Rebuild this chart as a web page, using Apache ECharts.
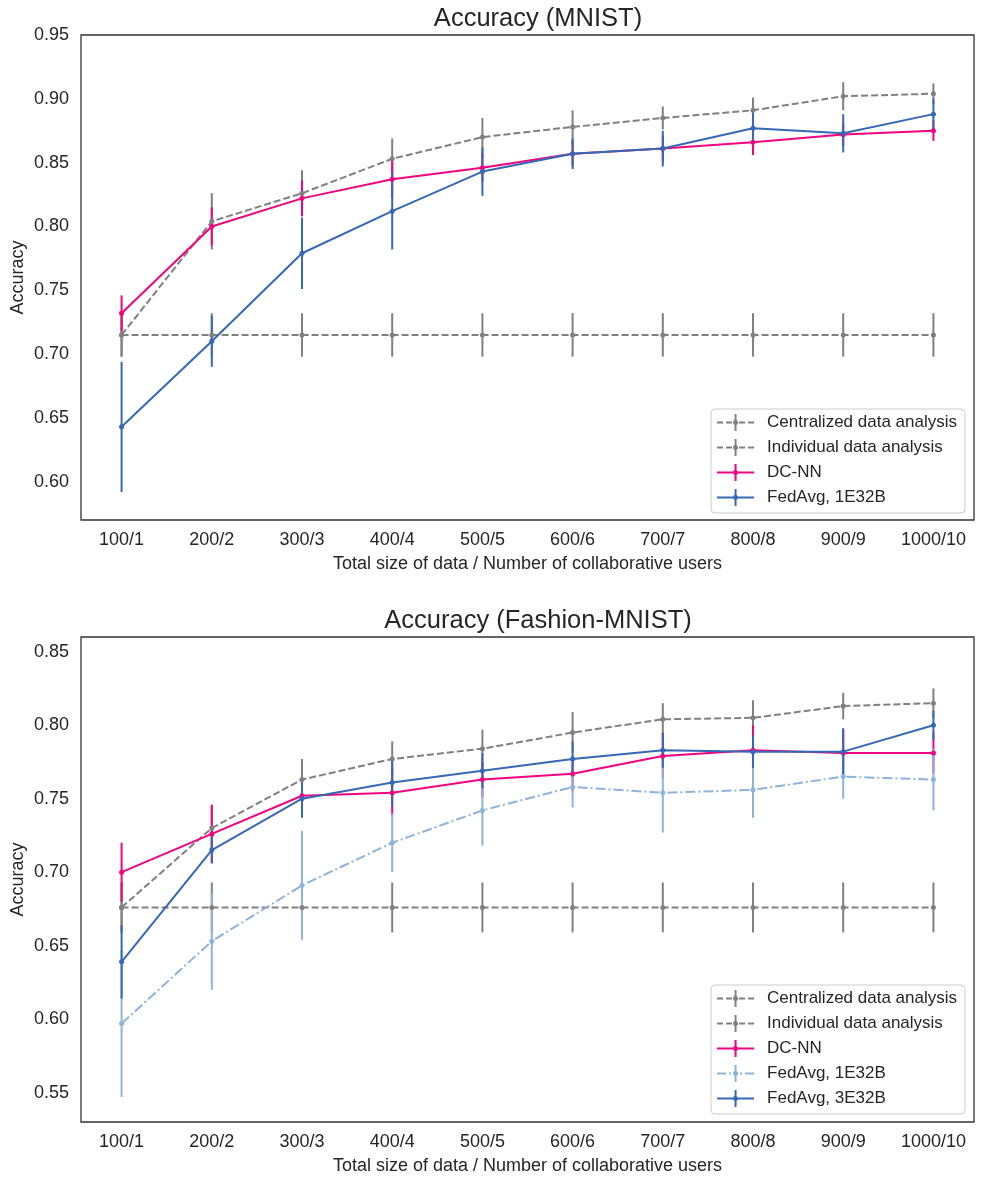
<!DOCTYPE html>
<html>
<head>
<meta charset="utf-8">
<script src="https://cdn.jsdelivr.net/npm/echarts@6/dist/echarts.min.js"></script>
<style>
html,body{margin:0;padding:0;background:#fff;}
#chart{width:984px;height:1184px;}
</style>
</head>
<body>
<div id="chart"></div>
<script>
// ---------- data ----------
var categories = ['100/1','200/2','300/3','400/4','500/5','600/6','700/7','800/8','900/9','1000/10'];
var yTicksTop = [0.60,0.65,0.70,0.75,0.80,0.85,0.90,0.95];
var yTicksBottom = [0.55,0.60,0.65,0.70,0.75,0.80,0.85];

// MNIST
var mnistCentral    = [0.715,0.804,0.826,0.853,0.870,0.878,0.885,0.891,0.902,0.904];
var mnistCentralErr = [0.017,0.022,0.018,0.016,0.015,0.013,0.009,0.010,0.011,0.008];
var mnistIndiv      = [0.715,0.715,0.715,0.715,0.715,0.715,0.715,0.715,0.715,0.715];
var mnistIndivErr   = [0.017,0.017,0.017,0.017,0.017,0.017,0.017,0.017,0.017,0.017];
var mnistDC         = [0.732,0.800,0.822,0.837,0.846,0.857,0.861,0.866,0.872,0.875];
var mnistDCErr      = [0.014,0.015,0.014,0.015,0.011,0.010,0.010,0.010,0.009,0.008];
var mnistFed1       = [0.643,0.710,0.779,0.812,0.843,0.857,0.861,0.877,0.873,0.888];
var mnistFed1Err    = [0.051,0.020,0.028,0.030,0.019,0.012,0.014,0.012,0.015,0.012];

// Fashion-MNIST
var fashCentral    = [0.676,0.730,0.763,0.777,0.784,0.795,0.804,0.805,0.813,0.815];
var fashCentralErr = [0.017,0.015,0.014,0.012,0.013,0.014,0.011,0.012,0.009,0.010];
var fashIndiv      = [0.676,0.676,0.676,0.676,0.676,0.676,0.676,0.676,0.676,0.676];
var fashIndivErr   = [0.017,0.017,0.017,0.017,0.017,0.017,0.017,0.017,0.017,0.017];
var fashDC         = [0.700,0.726,0.752,0.754,0.763,0.767,0.779,0.783,0.781,0.781];
var fashDCErr      = [0.020,0.020,0.010,0.016,0.012,0.012,0.015,0.017,0.016,0.014];
var fashFed1       = [0.597,0.653,0.691,0.720,0.742,0.758,0.754,0.756,0.765,0.763];
var fashFed1Err    = [0.050,0.033,0.037,0.020,0.024,0.014,0.027,0.019,0.015,0.021];
var fashFed3       = [0.639,0.715,0.750,0.761,0.769,0.777,0.783,0.782,0.782,0.800];
var fashFed3Err    = [0.025,0.009,0.013,0.016,0.012,0.012,0.012,0.011,0.016,0.010];

// ---------- style ----------
var FONT = "'Liberation Sans', Arial, 'DejaVu Sans', sans-serif";
var GRAY = '#808080', PINK = '#f0047f', BLUE = '#3569b3', LIGHT = '#8db3db';
var TXT = '#262626';

// legend icons (37 x 17): horizontal line pieces + vertical error bar + dot
var BAR = 'M17.5,0h2v17h-2z M18.5,6a2.5,2.5 0 1,1 -0.001,0z';
var ICON_SOLID  = 'path://M0,7.5h37v2h-37z ' + BAR;
var ICON_DASH   = 'path://M0,7.5h6v2h-6z M9,7.5h6v2h-6z M22,7.5h6v2h-6z M31,7.5h6v2h-6z ' + BAR;
var ICON_DASHDOT= 'path://M0,7.5h9v2h-9z M12,7.5h2v2h-2z M23,7.5h2v2h-2z M28,7.5h9v2h-9z ' + BAR;

function pts(vals){ return vals.map(function(v,i){ return [i,v]; }); }
function errs(vals,e){ return vals.map(function(v,i){ return [i, v-e[i], v+e[i]]; }); }

function errSeries(name, vals, e, color, idx){
  return {
    type:'custom', name:name+' err', xAxisIndex:idx, yAxisIndex:idx,
    silent:true, z:2,
    data: errs(vals,e),
    encode:{x:0, y:[1,2]},
    renderItem:function(params, api){
      var p1 = api.coord([api.value(0), api.value(1)]);
      var p2 = api.coord([api.value(0), api.value(2)]);
      return {type:'line', shape:{x1:p1[0],y1:p1[1],x2:p2[0],y2:p2[1]},
              style:{stroke:color, lineWidth:2}};
    }
  };
}
function lineSeries(name, vals, color, dash, idx){
  return {
    type:'line', name:name, xAxisIndex:idx, yAxisIndex:idx, z:3,
    data: pts(vals), symbol:'circle', symbolSize:5, showSymbol:true,
    itemStyle:{color:color},
    lineStyle:{color:color, width:2, type:dash},
    emphasis:{disabled:true}, animation:false
  };
}
function xAxis(idx){
  return {
    type:'value', gridIndex:idx, min:-0.45, max:9.45,
    axisLine:{show:false}, axisTick:{show:false}, splitLine:{show:false},
    axisLabel:{customValues:[0,1,2,3,4,5,6,7,8,9], formatter:function(v){return categories[Math.round(v)];},
               fontSize:18, color:TXT, fontFamily:FONT, margin:11},
    name:'Total size of data / Number of collaborative users', nameLocation:'middle', nameGap:35,
    nameMoveOverlap:false,
    nameTextStyle:{fontSize:18, color:TXT, fontFamily:FONT}
  };
}
function yAxis(idx, min, max, ticks){
  return {
    type:'value', gridIndex:idx, min:min, max:max,
    axisLine:{show:false}, axisTick:{show:false}, splitLine:{show:false},
    axisLabel:{customValues:ticks, formatter:function(v){return v.toFixed(2);},
               fontSize:18, color:TXT, fontFamily:FONT, margin:12},
    name:'Accuracy', nameLocation:'middle', nameGap:54, nameRotate:90,
    nameMoveOverlap:false,
    nameTextStyle:{fontSize:18, color:TXT, fontFamily:FONT}
  };
}
var legendCommon = {
  orient:'vertical', right:19, itemWidth:37, itemHeight:17, itemGap:8,
  padding:[5,8,7,6], backgroundColor:'#fff', borderColor:'#cccccc', borderWidth:1, borderRadius:4,
  itemStyle:{borderWidth:0},
  textStyle:{fontSize:17, lineHeight:17, color:TXT, fontFamily:FONT, padding:[0,0,0,8]},
  formatter:function(n){ return n.replace(/\s+$/,''); },
  selectedMode:false
};

var option = {
  backgroundColor:'#fff',
  animation:false,
  title:[
    {text:'Accuracy (MNIST)', top:1, left:533, textAlign:'center',
     textStyle:{fontSize:25.5, fontWeight:'normal', color:TXT, fontFamily:FONT}},
    {text:'Accuracy (Fashion-MNIST)', top:603, left:533, textAlign:'center',
     textStyle:{fontSize:25.5, fontWeight:'normal', color:TXT, fontFamily:FONT}}
  ],
  grid:[
    {left:81, top:35, width:893, height:485, show:true, borderColor:'#333', borderWidth:1.3,
     backgroundColor:'#fff', containLabel:false, outerBoundsMode:'none'},
    {left:81, top:637, width:893, height:485, show:true, borderColor:'#333', borderWidth:1.3,
     backgroundColor:'#fff', containLabel:false, outerBoundsMode:'none'}
  ],
  xAxis:[xAxis(0), xAxis(1)],
  yAxis:[yAxis(0,0.57,0.95,yTicksTop), yAxis(1,0.53,0.86,yTicksBottom)],
  legend:[
    Object.assign({}, legendCommon, {top:409,
      data:[{name:'Centralized data analysis', icon:ICON_DASH},
            {name:'Individual data analysis', icon:ICON_DASH},
            {name:'DC-NN', icon:ICON_SOLID},
            {name:'FedAvg, 1E32B', icon:ICON_SOLID}]}),
    Object.assign({}, legendCommon, {top:985,
      data:[{name:'Centralized data analysis ', icon:ICON_DASH},
            {name:'Individual data analysis ', icon:ICON_DASH},
            {name:'DC-NN ', icon:ICON_SOLID},
            {name:'FedAvg, 1E32B ', icon:ICON_DASHDOT},
            {name:'FedAvg, 3E32B', icon:ICON_SOLID}]})
  ],
  series:[
    errSeries('c0', mnistCentral, mnistCentralErr, GRAY, 0),
    lineSeries('Centralized data analysis', mnistCentral, GRAY, [7,3], 0),
    errSeries('i0', mnistIndiv, mnistIndivErr, GRAY, 0),
    lineSeries('Individual data analysis', mnistIndiv, GRAY, [7,3], 0),
    errSeries('d0', mnistDC, mnistDCErr, PINK, 0),
    lineSeries('DC-NN', mnistDC, PINK, 'solid', 0),
    errSeries('f0', mnistFed1, mnistFed1Err, BLUE, 0),
    lineSeries('FedAvg, 1E32B', mnistFed1, BLUE, 'solid', 0),

    errSeries('c1', fashCentral, fashCentralErr, GRAY, 1),
    lineSeries('Centralized data analysis ', fashCentral, GRAY, [7,3], 1),
    errSeries('i1', fashIndiv, fashIndivErr, GRAY, 1),
    lineSeries('Individual data analysis ', fashIndiv, GRAY, [7,3], 1),
    errSeries('d1', fashDC, fashDCErr, PINK, 1),
    lineSeries('DC-NN ', fashDC, PINK, 'solid', 1),
    errSeries('g1', fashFed1, fashFed1Err, LIGHT, 1),
    lineSeries('FedAvg, 1E32B ', fashFed1, LIGHT, [10,3,2,3], 1),
    errSeries('f1', fashFed3, fashFed3Err, BLUE, 1),
    lineSeries('FedAvg, 3E32B', fashFed3, BLUE, 'solid', 1)
  ]
};
var chart = echarts.init(document.getElementById('chart'), null, {renderer:'canvas'});
chart.setOption(option);
</script>
</body>
</html>
